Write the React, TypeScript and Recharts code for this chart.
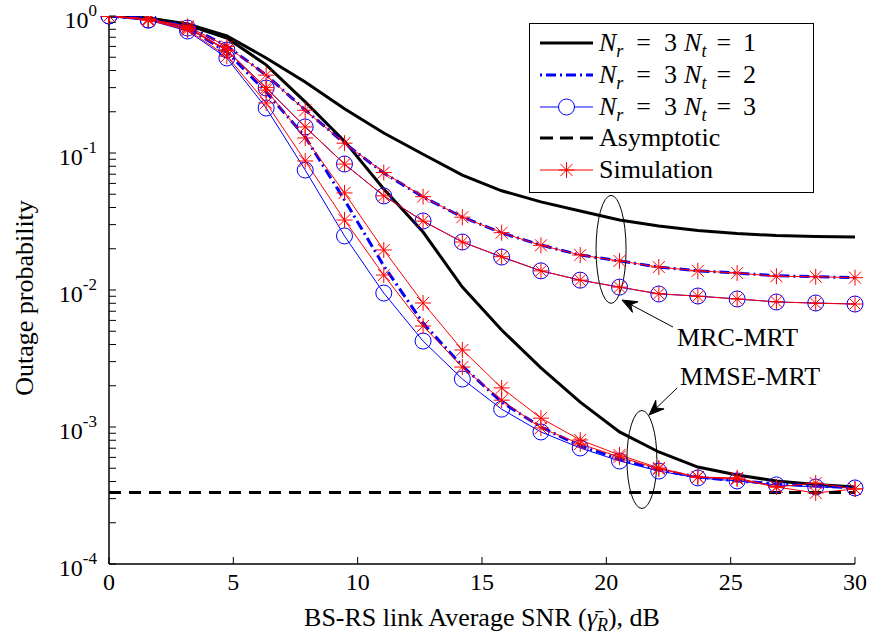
import React from 'react';
import { LineChart, Line, XAxis, YAxis, Legend, ReferenceDot } from 'recharts';

// SNR sample points (dB)
const snrDb = [0, 1.58, 3.16, 4.74, 6.32, 7.89, 9.47, 11.05, 12.63, 14.21, 15.79, 17.37, 18.95, 20.53, 22.11, 23.68, 25.26, 26.84, 28.42, 30];

// analytical curves
const mrcNt1 = [1, 0.967, 0.874, 0.715, 0.494, 0.33, 0.21, 0.14, 0.098, 0.069, 0.053, 0.044, 0.0377, 0.0324, 0.0293, 0.0272, 0.0258, 0.025, 0.0246, 0.0244];
const mmseNt1 = [1, 0.965, 0.86, 0.69, 0.44, 0.236, 0.122, 0.0546, 0.0265, 0.0105, 0.0051, 0.0027, 0.00152, 0.00092, 0.000657, 0.00051, 0.000447, 0.000403, 0.00038, 0.000365];
const mrcNt2 = [1, 0.951, 0.845, 0.604, 0.371, 0.206, 0.118, 0.0714, 0.0477, 0.0341, 0.0261, 0.0213, 0.018, 0.0163, 0.0147, 0.0138, 0.0133, 0.0127, 0.0125, 0.0123];
const mmseNt2 = [1, 0.951, 0.817, 0.546, 0.279, 0.131, 0.0454, 0.015, 0.00574, 0.00279, 0.00152, 0.001, 0.000727, 0.000584, 0.000485, 0.000431, 0.000404, 0.000384, 0.000371, 0.000359];
const mrcNt3 = [1, 0.935, 0.817, 0.565, 0.298, 0.155, 0.0831, 0.0486, 0.0319, 0.0224, 0.0174, 0.0138, 0.0118, 0.0105, 0.00935, 0.00904, 0.0086, 0.00817, 0.00804, 0.0079];
const mmseNt3 = [1, 0.935, 0.777, 0.494, 0.213, 0.0751, 0.0248, 0.0095, 0.00424, 0.00224, 0.00135, 0.00092, 0.000703, 0.000565, 0.000477, 0.000425, 0.000404, 0.000378, 0.000365, 0.000359];

// simulation points
const simMrcNt2 = [1, 0.951, 0.84, 0.6, 0.37, 0.205, 0.118, 0.072, 0.048, 0.034, 0.0262, 0.0212, 0.018, 0.0163, 0.0147, 0.0138, 0.0133, 0.0126, 0.0125, 0.0123];
const simMrcNt3 = [1, 0.935, 0.81, 0.56, 0.3, 0.155, 0.083, 0.0487, 0.0318, 0.0224, 0.0175, 0.0138, 0.0118, 0.0105, 0.0094, 0.009, 0.0086, 0.0082, 0.008, 0.0079];
const simMmseNt2 = [1, 0.951, 0.831, 0.565, 0.288, 0.1287, 0.0511, 0.0196, 0.00804, 0.00365, 0.00193, 0.00116, 0.000804, 0.000625, 0.000502, 0.000431, 0.000425, 0.000365, 0.00039, 0.000353];
const simMmseNt3 = [1, 0.935, 0.79, 0.51, 0.232, 0.0874, 0.0324, 0.01286, 0.00546, 0.00274, 0.00157, 0.000984, 0.000752, 0.000604, 0.000494, 0.000431, 0.000417, 0.000365, 0.00033, 0.000353];

const asymptotic = 0.000332;

const xTicks = [0, 5, 10, 15, 20, 25, 30];
const yMajor = [1e-4, 1e-3, 1e-2, 1e-1, 1];
const yMinorFactors = [2, 3, 4, 5, 6, 7, 8, 9];
const yTicks = [
  ...yMajor,
  ...[1e-4, 1e-3, 1e-2, 1e-1].flatMap((d) => yMinorFactors.map((k) => k * d)),
];

const data = snrDb.map((snr, i) => ({
  snr,
  mrcNt1: mrcNt1[i],
  mmseNt1: mmseNt1[i],
  mrcNt2: mrcNt2[i],
  mmseNt2: mmseNt2[i],
  mrcNt3: mrcNt3[i],
  mmseNt3: mmseNt3[i],
  simMrcNt2: simMrcNt2[i],
  simMrcNt3: simMrcNt3[i],
  simMmseNt2: simMmseNt2[i],
  simMmseNt3: simMmseNt3[i],
  asym: asymptotic,
}));

const FONT = "'Liberation Serif', 'Times New Roman', serif";
const BLUE = '#0000ff';
const RED = '#ff0000';
const TICK = 7;

const isMajor = (v: number) => Math.abs(Math.log10(v) - Math.round(Math.log10(v))) < 1e-6;

const leftYTick = (p: any) => {
  const { x, y, payload } = p;
  const v = payload.value;
  const major = isMajor(v);
  return (
    <g key={`ly-${v}`}>
      <line x1={x} x2={x + TICK} y1={y} y2={y} stroke="#000" strokeWidth={1} />
      {major && (
        <text x={x - 12} y={y + 12} textAnchor="end" fontFamily={FONT} fontSize={24} fill="#000">
          10<tspan dy={-12} fontSize={17}>{Math.round(Math.log10(v))}</tspan>
        </text>
      )}
    </g>
  );
};

const rightYTick = (p: any) => {
  const { x, y, payload } = p;
  return <line key={`ry-${payload.value}`} x1={x - TICK} x2={x} y1={y} y2={y} stroke="#000" strokeWidth={1} />;
};

const bottomXTick = (p: any) => {
  const { x, y, payload } = p;
  return (
    <g key={`bx-${payload.value}`}>
      <line x1={x} x2={x} y1={y} y2={y - TICK} stroke="#000" strokeWidth={1} />
      <text x={x} y={y + 26} textAnchor="middle" fontFamily={FONT} fontSize={24} fill="#000">
        {payload.value}
      </text>
    </g>
  );
};

const topXTick = (p: any) => {
  const { x, y, payload } = p;
  return <line key={`tx-${payload.value}`} x1={x} x2={x} y1={y} y2={y + TICK} stroke="#000" strokeWidth={1} />;
};

const XTitle = () => (
  <text x={482} y={626} textAnchor="middle" fontFamily={FONT} fontSize={26} fill="#000">
    BS-RS link Average SNR (<tspan fontStyle="italic">{'\u03b3\u0304'}</tspan>
    <tspan fontStyle="italic" fontSize={18} dy={5}>R</tspan>
    <tspan dy={-5}>), dB</tspan>
  </text>
);

const YTitle = () => (
  <text x={33} y={298} transform="rotate(-90 33 298)" textAnchor="middle" fontFamily={FONT} fontSize={26} fill="#000">
    Outage probability
  </text>
);

const Asterisk = ({ cx, cy }: { cx: number; cy: number }) => (
  <g stroke={RED} strokeWidth={1}>
    <line x1={cx - 8} x2={cx + 8} y1={cy} y2={cy} />
    <line x1={cx} x2={cx} y1={cy - 8} y2={cy + 8} />
    <line x1={cx - 6} x2={cx + 6} y1={cy - 6} y2={cy + 6} />
    <line x1={cx - 6} x2={cx + 6} y1={cy + 6} y2={cy - 6} />
  </g>
);

const starDot = (p: any) => <g key={`s-${p.dataKey}-${p.index}`}><Asterisk cx={p.cx} cy={p.cy} /></g>;
const circleDot = (p: any) => (
  <circle key={`c-${p.dataKey}-${p.index}`} cx={p.cx} cy={p.cy} r={8} fill="none" stroke={BLUE} strokeWidth={1} />
);

const ellipseShape = (p: any) => (
  <ellipse cx={p.cx} cy={p.cy} rx={15} ry={p.ry} fill="none" stroke="#000" strokeWidth={1} />
);

const arrowShape = (dx: number, dy: number, label: string, tx: number, ty: number) => (p: any) => {
  const { cx, cy } = p;
  const x2 = cx + dx;
  const y2 = cy + dy;
  const len = Math.hypot(dx, dy);
  const ux = -dx / len;
  const uy = -dy / len;
  const bx = cx - ux * 15;
  const by = cy - uy * 15;
  const nx = cx - ux * 10;
  const ny = cy - uy * 10;
  const pts = [
    `${cx},${cy}`,
    `${bx - uy * 6},${by + ux * 6}`,
    `${nx},${ny}`,
    `${bx + uy * 6},${by - ux * 6}`,
  ].join(' ');
  return (
    <g>
      <line x1={nx} y1={ny} x2={x2} y2={y2} stroke="#000" strokeWidth={1} />
      <polygon points={pts} fill="#000" stroke="#000" strokeWidth={1} />
      <text x={cx + tx} y={cy + ty} fontFamily={FONT} fontSize={26} fill="#000">{label}</text>
    </g>
  );
};

const MathLabel = ({ y, nt }: { y: number; nt: string }) => (
  <text x={70} y={y} fontFamily={FONT} fontSize={26} fill="#000">
    <tspan fontStyle="italic">N</tspan>
    <tspan fontStyle="italic" fontSize={18} dy={6}>r</tspan>
    <tspan dx={13} dy={-6}>=</tspan>
    <tspan dx={13}>3</tspan>
    <tspan dx={7} fontStyle="italic">N</tspan>
    <tspan fontStyle="italic" fontSize={18} dy={6}>t</tspan>
    <tspan dx={10} dy={-6}>=</tspan>
    <tspan dx={12}>{nt}</tspan>
  </text>
);

const renderLegend = () => {
  const rows = [20, 52, 84, 115, 147];
  return (
    <svg width={286} height={171} style={{ display: 'block' }}>
      <rect x={0.5} y={0.5} width={284} height={169} fill="#fff" stroke="#000" strokeWidth={1} />
      <line x1={11} x2={64} y1={rows[0]} y2={rows[0]} stroke="#000" strokeWidth={3} />
      <MathLabel y={rows[0] + 8} nt="1" />
      <line x1={11} x2={64} y1={rows[1]} y2={rows[1]} stroke={BLUE} strokeWidth={3} strokeDasharray="2 4 10 4" />
      <MathLabel y={rows[1] + 8} nt="2" />
      <line x1={11} x2={64} y1={rows[2]} y2={rows[2]} stroke={BLUE} strokeWidth={1} />
      <circle cx={37.5} cy={rows[2]} r={8} fill="#fff" stroke={BLUE} strokeWidth={1} />
      <MathLabel y={rows[2] + 8} nt="3" />
      <line x1={11} x2={64} y1={rows[3]} y2={rows[3]} stroke="#000" strokeWidth={3} strokeDasharray="13 7" />
      <text x={70} y={rows[3] + 8} fontFamily={FONT} fontSize={26} fill="#000">Asymptotic</text>
      <line x1={11} x2={64} y1={rows[4]} y2={rows[4]} stroke={RED} strokeWidth={1} />
      <Asterisk cx={37.5} cy={rows[4]} />
      <text x={70} y={rows[4] + 8} fontFamily={FONT} fontSize={26} fill="#000">Simulation</text>
    </svg>
  );
};

const common = {
  xAxisId: 'bottom',
  yAxisId: 'left',
  isAnimationActive: false,
  activeDot: false as const,
  type: 'linear' as const,
};

export default function App() {
  return (
    <div style={{ position: 'absolute', left: 0, top: 0, background: '#fff' }}>
      <LineChart width={869} height={637} data={data} margin={{ top: 16, right: 14, bottom: 0, left: 0 }}>
        <XAxis
          xAxisId="bottom"
          type="number"
          dataKey="snr"
          domain={[0, 30]}
          ticks={xTicks}
          interval={0}
          tickSize={0}
          tickMargin={0}
          tickLine={false}
          tick={bottomXTick}
          height={73}
          axisLine={{ stroke: '#000', strokeWidth: 1.5 }}
          label={<XTitle />}
        />
        <XAxis
          xAxisId="top"
          orientation="top"
          type="number"
          dataKey="snr"
          domain={[0, 30]}
          ticks={xTicks}
          interval={0}
          tickSize={0}
          tickMargin={0}
          tickLine={false}
          tick={topXTick}
          height={0}
          axisLine={{ stroke: '#000', strokeWidth: 1.5 }}
        />
        <YAxis
          yAxisId="left"
          scale="log"
          domain={[1e-4, 1]}
          allowDataOverflow
          ticks={yTicks}
          interval={0}
          tickSize={0}
          tickMargin={0}
          tickLine={false}
          tick={leftYTick}
          width={109}
          axisLine={{ stroke: '#000', strokeWidth: 1.5 }}
          label={<YTitle />}
        />
        <YAxis
          yAxisId="right"
          orientation="right"
          scale="log"
          domain={[1e-4, 1]}
          allowDataOverflow
          ticks={yTicks}
          interval={0}
          tickSize={0}
          tickMargin={0}
          tickLine={false}
          tick={rightYTick}
          width={0}
          axisLine={{ stroke: '#000', strokeWidth: 1.5 }}
        />

        <Line {...common} dataKey="mrcNt1" stroke="#000" strokeWidth={3} dot={false} />
        <Line {...common} dataKey="mmseNt1" stroke="#000" strokeWidth={3} dot={false} />
        <Line {...common} dataKey="mrcNt2" stroke={BLUE} strokeWidth={3} strokeDasharray="10 4 2 4" dot={false} />
        <Line {...common} dataKey="mmseNt2" stroke={BLUE} strokeWidth={3} strokeDasharray="10 4 2 4" dot={false} />
        <Line {...common} dataKey="mrcNt3" stroke={BLUE} strokeWidth={1} dot={circleDot} />
        <Line {...common} dataKey="mmseNt3" stroke={BLUE} strokeWidth={1} dot={circleDot} />
        <Line {...common} dataKey="simMrcNt2" stroke={RED} strokeWidth={1} dot={starDot} />
        <Line {...common} dataKey="simMrcNt3" stroke={RED} strokeWidth={1} dot={starDot} />
        <Line {...common} dataKey="simMmseNt2" stroke={RED} strokeWidth={1} dot={starDot} />
        <Line {...common} dataKey="simMmseNt3" stroke={RED} strokeWidth={1} dot={starDot} />
        <Line {...common} dataKey="asym" stroke="#000" strokeWidth={3} strokeDasharray="12 8" dot={false} />

        <ReferenceDot xAxisId="bottom" yAxisId="left" x={20.19} y={0.0198} r={1} ifOverflow="visible"
          shape={(p: any) => ellipseShape({ ...p, ry: 54 })} />
        <ReferenceDot xAxisId="bottom" yAxisId="left" x={21.43} y={0.000579} r={1} ifOverflow="visible"
          shape={(p: any) => ellipseShape({ ...p, ry: 49 })} />
        <ReferenceDot xAxisId="bottom" yAxisId="left" x={20.63} y={0.00845} r={1} ifOverflow="visible"
          shape={arrowShape(51, 27, 'MRC-MRT', 55, 46)} />
        <ReferenceDot xAxisId="bottom" yAxisId="left" x={21.72} y={0.001224} r={1} ifOverflow="visible"
          shape={arrowShape(28, -27, 'MMSE-MRT', 31, -30)} />

        <Legend
          layout="horizontal"
          verticalAlign="middle"
          align="center"
          content={renderLegend}
          wrapperStyle={{ left: 529, top: 23, width: 286, height: 171 }}
        />
      </LineChart>
    </div>
  );
}
